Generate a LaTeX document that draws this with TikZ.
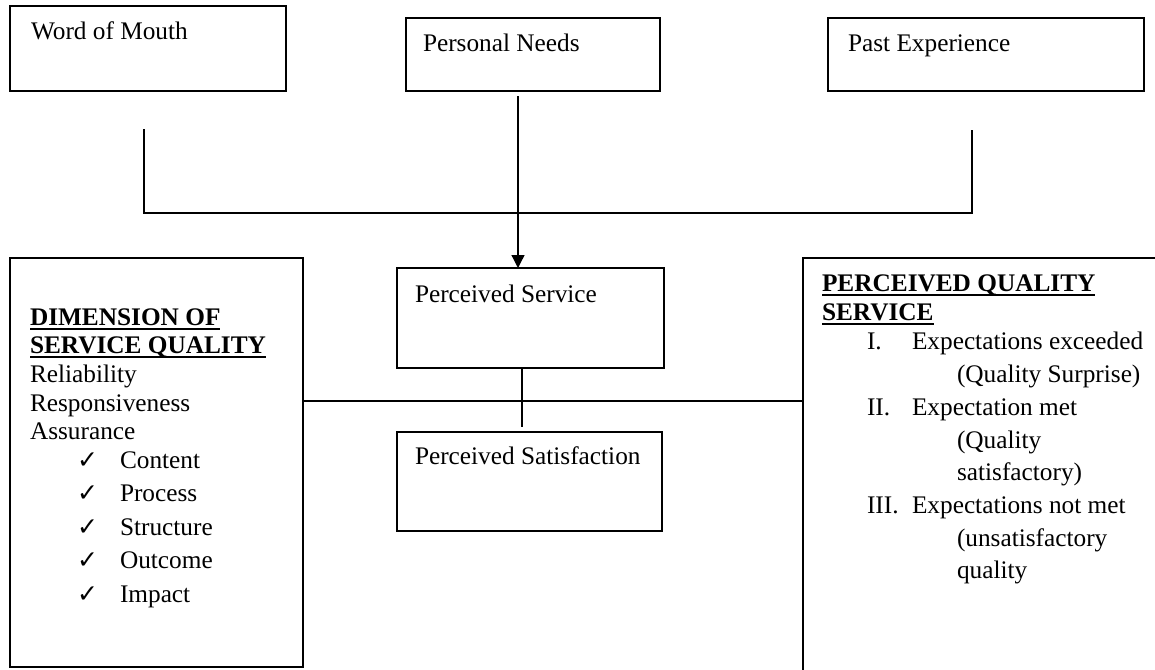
\documentclass[tikz,border=0pt]{standalone}
\usepackage{fontspec}
\setmainfont{Liberation Serif}
\newfontfamily\chkfont{DejaVu Sans}
\usetikzlibrary{arrows.meta}
\newcommand\myul[1]{\setbox0\hbox{#1}\rlap{\rule[-4.5pt]{\wd0}{1.8pt}}\box0}
\tikzset{
  box/.style={draw,line width=1.3pt,inner sep=0pt,outer sep=0pt},
  txt/.style={anchor=base west,inner sep=0pt,outer sep=0pt,font=\fontsize{25.3}{29}\selectfont},
  hd/.style={anchor=base west,inner sep=0pt,outer sep=0pt,font=\bfseries\fontsize{25.3}{29}\selectfont},
  ck/.style={anchor=base west,inner sep=0pt,outer sep=0pt,font=\chkfont\fontsize{25}{28}\selectfont},
  conn/.style={line width=1.3pt},
}
\begin{document}
\begin{tikzpicture}[x=1pt,y=-1pt]
\useasboundingbox (0,0) rectangle (1155,669);
\clip (0,0) rectangle (1155,669);

% top boxes
\node[box,minimum width=276pt,minimum height=85pt] (wom) at (148,48.5) {};
\node[box,minimum width=254pt,minimum height=73pt] (pn) at (533,54.5) {};
\node[box,minimum width=316pt,minimum height=73pt] (pe) at (986,54.5) {};
\node[txt] (womt) at (31,40) {Word of Mouth};
\node[txt] (pnt) at (423,52) {Personal Needs};
\node[txt] (pet) at (848,52) {Past Experience};

% middle boxes
\node[box,minimum width=267pt,minimum height=100pt] (ps) at (530.5,318) {};
\node[box,minimum width=265pt,minimum height=99pt] (psat) at (529.5,481.5) {};
\node[txt] (pst) at (415,302) {Perceived Service};
\node[txt] (psatt) at (415,464) {Perceived Satisfaction};

% side boxes
\node[box,minimum width=293pt,minimum height=409pt] (lb) at (156.5,462.5) {};
\node[box,minimum width=372pt,minimum height=442pt] (rb) at (989,479) {};

% left box text
\node[hd] (l1) at (30,325) {\myul{DIMENSION OF}};
\node[hd] (l2) at (30,353) {\myul{SERVICE QUALITY}};
\node[txt] (l3) at (30,382) {Reliability};
\node[txt] (l4) at (30,411) {Responsiveness};
\node[txt] (l5) at (30,439) {Assurance};
\node[ck] (c1) at (77,468) {✓};
\node[txt] (t1) at (120,468) {Content};
\node[ck] (c2) at (77,501) {✓};
\node[txt] (t2) at (120,501) {Process};
\node[ck] (c3) at (77,535) {✓};
\node[txt] (t3) at (120,535) {Structure};
\node[ck] (c4) at (77,568) {✓};
\node[txt] (t4) at (120,568) {Outcome};
\node[ck] (c5) at (77,602) {✓};
\node[txt] (t5) at (120,602) {Impact};

% right box text
\node[hd] (r1) at (822,291) {\myul{PERCEIVED QUALITY}};
\node[hd] (r2) at (822,320) {\myul{SERVICE}};
\node[txt] (n1) at (867,349) {I.};
\node[txt] (r3) at (912,349) {Expectations exceeded};
\node[txt] (r4) at (957,382) {(Quality Surprise)};
\node[txt] (n2) at (867,415) {II.};
\node[txt] (r5) at (912,415) {Expectation met};
\node[txt] (r6) at (957,448) {(Quality};
\node[txt] (r7) at (957,480) {satisfactory)};
\node[txt] (n3) at (867,513) {III.};
\node[txt] (r8) at (912,513) {Expectations not met};
\node[txt] (r9) at (957,546) {(unsatisfactory};
\node[txt] (r10) at (957,578) {quality};

% connectors
\coordinate (bl) at (144,129);
\coordinate (blc) at (144,213);
\coordinate (brc) at (972,213);
\coordinate (br) at (972,130);
\draw[conn] (bl) -- (blc) -- (brc) -- (br);

\coordinate (as) at (518,96);
\draw[conn,-{Triangle[length=13pt,width=13pt]}] (as) -- (ps.north -| as);

\coordinate (vx) at (522,0);
\draw[conn] (ps.south -| vx) -- ([yshift=5pt]psat.north -| vx);

\draw[conn] (lb.east |- 0,401) -- (rb.west |- 0,401);
\end{tikzpicture}
\end{document}
